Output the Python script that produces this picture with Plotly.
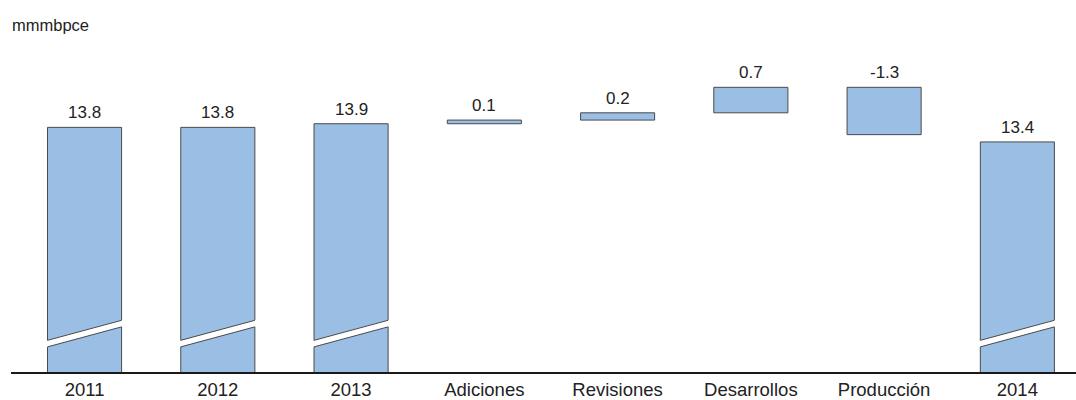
import plotly.graph_objects as go

# Reservas 3P: saldos anuales y movimientos del año (mmmbpce)
categories = ["2011", "2012", "2013", "Adiciones", "Revisiones", "Desarrollos", "Producción", "2014"]
totals = {"2011": 13.8, "2012": 13.8, "2013": 13.9, "2014": 13.4}
changes = {"Adiciones": 0.1, "Revisiones": 0.2, "Desarrollos": 0.7, "Producción": -1.3}
unit_label = "mmmbpce"

BAR_FILL = "#9bbee5"
BAR_EDGE = "#4a4a4a"
TEXT = "#222222"
FONT = "Liberation Sans, Arial, sans-serif"

# value at which the truncated axis begins, and the break band limits
AXIS_FLOOR = 7.08
AXIS_TOP = 16.2
BREAK_LOW = (7.77, 8.32)   # lower edge of the gap (left, right)
BAR_WIDTH = 0.556

bases, heights, tops = [], [], []
running = None
for cat in categories:
    if cat in totals:
        v = totals[cat]
        bases.append(0.0)
        heights.append(v)
        tops.append(v)
        running = v
    else:
        d = changes[cat]
        bases.append(running)
        heights.append(d)
        tops.append(max(running, running + d))
        running = round(running + d, 4)

labels = [f"{totals[c]:.1f}" if c in totals else f"{changes[c]:.1f}" for c in categories]
positions = list(range(len(categories)))

fig = go.Figure()
fig.add_trace(go.Bar(
    x=positions, y=heights, base=bases, width=BAR_WIDTH,
    marker=dict(color=BAR_FILL, line=dict(color=BAR_EDGE, width=1)),
    hoverinfo="skip",
))

annotations = []
# value labels above each bar
for pos, top, lab in zip(positions, tops, labels):
    annotations.append(dict(x=pos, y=top, xref="x", yref="y", text=lab, showarrow=False,
                            yanchor="bottom", yshift=3,
                            font=dict(family=FONT, size=17, color=TEXT)))

annotations.append(dict(text=unit_label, xref="paper", yref="paper", x=0, y=1,
                        xanchor="left", yanchor="bottom", xshift=-1, yshift=4,
                        showarrow=False,
                        font=dict(family=FONT, size=16.5, color=TEXT)))

# axis-break band over the truncated total bars
gap = 0.18
shapes = []
for pos, cat in zip(positions, categories):
    if cat not in totals:
        continue
    x0, x1 = pos - BAR_WIDTH / 2, pos + BAR_WIDTH / 2
    lo0, lo1 = BREAK_LOW
    hi0, hi1 = lo0 + gap, lo1 + gap
    slope = (lo1 - lo0) / (x1 - x0)
    ext = 0.012
    xa, xb = x0 - ext, x1 + ext
    la, lb = lo0 - slope * ext, lo1 + slope * ext
    ha, hb = hi0 - slope * ext, hi1 + slope * ext
    shapes.append(dict(type="path", xref="x", yref="y",
                       path=f"M {xa} {la} L {xb} {lb} L {xb} {hb} L {xa} {ha} Z",
                       fillcolor="white", line=dict(width=0), layer="above"))
    shapes.append(dict(type="line", xref="x", yref="y", x0=x0, y0=lo0, x1=x1, y1=lo1,
                       line=dict(color=BAR_EDGE, width=1), layer="above"))
    shapes.append(dict(type="line", xref="x", yref="y", x0=x0, y0=hi0, x1=x1, y1=hi1,
                       line=dict(color=BAR_EDGE, width=1), layer="above"))

fig.update_layout(
    width=1076, height=400,
    margin=dict(l=11, r=0, t=40, b=26),
    paper_bgcolor="white", plot_bgcolor="white",
    showlegend=False,
    shapes=shapes,
    annotations=annotations,
    font=dict(family=FONT, color=TEXT),
    xaxis=dict(range=[-0.552, 7.44], tickmode="array",
               tickvals=positions, ticktext=categories,
               showline=True, linecolor="#1a1a1a", linewidth=2,
               showgrid=False, zeroline=False, ticks="",
               tickfont=dict(family=FONT, size=18.5, color=TEXT)),
    yaxis=dict(range=[AXIS_FLOOR, AXIS_TOP], visible=False, showgrid=False, zeroline=False),
)

fig.write_html("out.html")
